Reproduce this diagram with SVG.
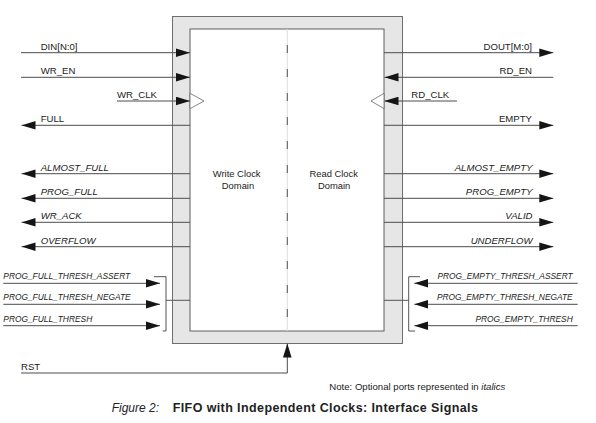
<svg xmlns="http://www.w3.org/2000/svg" width="596" height="423" viewBox="0 0 596 423">
<style>
text{font-family:"Liberation Sans",Arial,sans-serif;fill:#222}
.sig{font-size:9.6px}
.it{font-style:italic}
.thr{font-size:8.4px;font-style:italic}
.end{text-anchor:end}
.dom{font-size:9.4px;text-anchor:middle}
.w{stroke:#4d4d4d;stroke-width:1;fill:none}
.br{stroke:#555;stroke-width:1;fill:none}
</style>
<defs>
<marker id="ah" markerUnits="userSpaceOnUse" markerWidth="14" markerHeight="9" refX="14" refY="4.3" orient="auto" viewBox="0 0 14 8.6">
<path d="M0,0 L14,4.3 L0,8.6 Z" fill="#151515"/>
</marker>
</defs>
<rect width="596" height="423" fill="#ffffff"/>
<g id="fifo">
<rect x="172.5" y="16.5" width="230" height="327" fill="#e6e6e6" stroke="#6e6e6e" stroke-width="1"/>
<rect x="190" y="29" width="194" height="302" fill="#ffffff" stroke="#5e5e5e" stroke-width="1"/>
<line x1="287.3" y1="29" x2="287.3" y2="331" stroke="#dedede" stroke-width="1"/>
<line x1="287.3" y1="29" x2="287.3" y2="331" stroke="#555" stroke-width="1" stroke-dasharray="8 16" stroke-dashoffset="8"/>
<polygon points="190,93.3 204,101 190,108.7" fill="#ffffff" stroke="#666" stroke-width="0.8"/>
<polygon points="384,93.3 371,101 384,108.7" fill="#ffffff" stroke="#666" stroke-width="0.8"/>
<text class="dom" x="236.7" y="176.7">Write Clock</text>
<text class="dom" x="238" y="189.3">Domain</text>
<text class="dom" x="333.7" y="176.7">Read Clock</text>
<text class="dom" x="334.2" y="189.3">Domain</text>
</g>
<g id="connectors">
<line class="w" x1="21" y1="52.7" x2="190" y2="52.7" marker-end="url(#ah)"/>
<line class="w" x1="21" y1="77.3" x2="190" y2="77.3" marker-end="url(#ah)"/>
<line class="w" x1="117" y1="101" x2="190" y2="101" marker-end="url(#ah)"/>
<line class="w" x1="190" y1="125.3" x2="21.5" y2="125.3" marker-end="url(#ah)"/>
<line class="w" x1="190" y1="173.7" x2="21.5" y2="173.7" marker-end="url(#ah)"/>
<line class="w" x1="190" y1="198.3" x2="21.5" y2="198.3" marker-end="url(#ah)"/>
<line class="w" x1="190" y1="222.3" x2="21.5" y2="222.3" marker-end="url(#ah)"/>
<line class="w" x1="190" y1="246.7" x2="21.5" y2="246.7" marker-end="url(#ah)"/>
<line class="w" x1="384" y1="52.7" x2="553.3" y2="52.7" marker-end="url(#ah)"/>
<line class="w" x1="553.3" y1="77.3" x2="384.5" y2="77.3" marker-end="url(#ah)"/>
<line class="w" x1="457" y1="101" x2="384.5" y2="101" marker-end="url(#ah)"/>
<line class="w" x1="384" y1="125.3" x2="553.3" y2="125.3" marker-end="url(#ah)"/>
<line class="w" x1="384" y1="173.7" x2="553.3" y2="173.7" marker-end="url(#ah)"/>
<line class="w" x1="384" y1="198.3" x2="553.3" y2="198.3" marker-end="url(#ah)"/>
<line class="w" x1="384" y1="222.3" x2="553.3" y2="222.3" marker-end="url(#ah)"/>
<line class="w" x1="384" y1="246.7" x2="553.3" y2="246.7" marker-end="url(#ah)"/>
<line class="w" x1="3.3" y1="283.3" x2="160" y2="283.3" marker-end="url(#ah)"/>
<line class="w" x1="3.3" y1="304.3" x2="160" y2="304.3" marker-end="url(#ah)"/>
<line class="w" x1="3.3" y1="325.7" x2="160" y2="325.7" marker-end="url(#ah)"/>
<path class="br" d="M154,276.7 H166 V331 H162.7 M166,300.3 H190"/>
<line class="w" x1="577.7" y1="283.3" x2="414.3" y2="283.3" marker-end="url(#ah)"/>
<line class="w" x1="577.7" y1="304.3" x2="414.3" y2="304.3" marker-end="url(#ah)"/>
<line class="w" x1="577.7" y1="325.7" x2="414.3" y2="325.7" marker-end="url(#ah)"/>
<path class="br" d="M420,276.7 H408.7 V331 H415 M408.7,300.3 H384"/>
<path class="w" d="M21,373 H287.3 V343.5" marker-end="url(#ah)"/>
</g>
<g id="labels">
<text class="sig" x="40.7" y="49.5">DIN[N:0]</text>
<text class="sig" x="40.7" y="74.3">WR_EN</text>
<text class="sig" x="117" y="98">WR_CLK</text>
<text class="sig" x="40.7" y="122.3">FULL</text>
<text class="sig it" x="40.7" y="170.7">ALMOST_FULL</text>
<text class="sig it" x="40.7" y="195.3">PROG_FULL</text>
<text class="sig it" x="40.7" y="219.3">WR_ACK</text>
<text class="sig it" x="40.7" y="243.7">OVERFLOW</text>
<text class="sig end" x="532" y="49.5">DOUT[M:0]</text>
<text class="sig end" x="532" y="74.3">RD_EN</text>
<text class="sig" x="411.3" y="98">RD_CLK</text>
<text class="sig end" x="532" y="122.3">EMPTY</text>
<text class="sig it end" x="532.5" y="170.7">ALMOST_EMPTY</text>
<text class="sig it end" x="532.5" y="195.3">PROG_EMPTY</text>
<text class="sig it end" x="532.5" y="219.3">VALID</text>
<text class="sig it end" x="532.5" y="243.7">UNDERFLOW</text>
<text class="thr" x="3.3" y="279">PROG_FULL_THRESH_ASSERT</text>
<text class="thr" x="3.3" y="300.3">PROG_FULL_THRESH_NEGATE</text>
<text class="thr" x="3.3" y="321.7">PROG_FULL_THRESH</text>
<text class="thr end" x="572.7" y="279">PROG_EMPTY_THRESH_ASSERT</text>
<text class="thr end" x="572.7" y="300.3">PROG_EMPTY_THRESH_NEGATE</text>
<text class="thr end" x="572.7" y="321.7">PROG_EMPTY_THRESH</text>
<text class="sig" x="21" y="370">RST</text>
<text x="329.3" y="390" style="font-size:9.6px">Note: Optional ports represented in <tspan style="font-style:italic">italics</tspan></text>
<text x="111.7" y="412" style="font-size:12px"><tspan style="font-style:italic">Figure 2:</tspan><tspan x="172.7" style="font-weight:bold;font-size:12.5px;letter-spacing:0.4px">FIFO with Independent Clocks: Interface Signals</tspan></text>
</g>
</svg>
